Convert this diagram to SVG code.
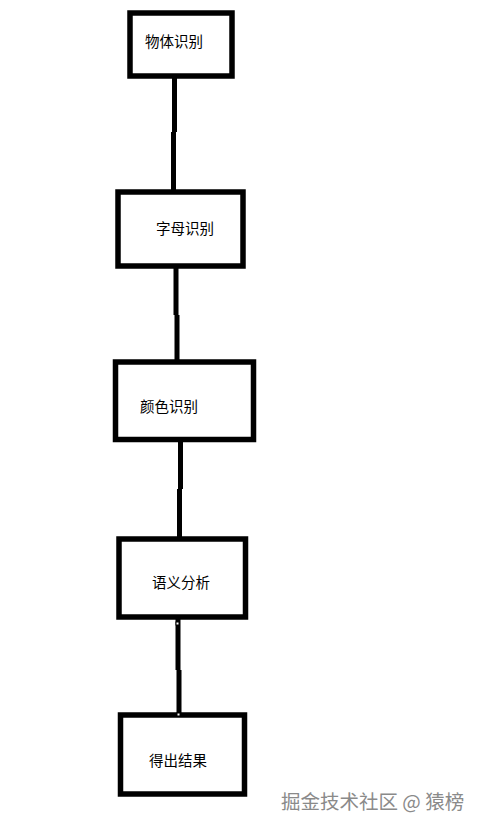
<svg xmlns="http://www.w3.org/2000/svg" width="483" height="831" viewBox="0 0 483 831">
<style>
.box{fill:#fff;stroke:#000;stroke-width:5.5}
.lbl{font-family:"Noto Sans CJK SC","Noto Sans",sans-serif;font-size:14.5px;fill:#000}
.ln{stroke:#000;stroke-width:5;fill:none}
.hd{fill:#fff;stroke:#000;stroke-width:1}
.wm{font-family:"Noto Sans CJK SC","Noto Sans",sans-serif;font-size:19.5px;fill:#8a8a8a}
</style>
<rect width="483" height="831" fill="#fff"/>
<g id="connectors">
<path class="ln" d="M174.5 76 V132 M173.5 132 V192"/>
<path class="ln" d="M176 266 V315 M177 315 V362"/>
<path class="ln" d="M180.5 440 V489 M179.5 489 V539"/>
<path class="ln" d="M178 617 V670 M179 670 V715"/>
</g>
<g id="n1"><rect class="box" x="130" y="13" width="102" height="63"/><text class="lbl" x="145" y="47">物体识别</text></g>
<g id="n2"><rect class="box" x="118" y="192" width="125" height="74"/><text class="lbl" x="156" y="234">字母识别</text></g>
<g id="n3"><rect class="box" x="115.5" y="362" width="138" height="77.5"/><text class="lbl" x="140" y="412">颜色识别</text></g>
<g id="n4"><rect class="box" x="119" y="539" width="126.5" height="78"/><text class="lbl" x="152" y="588">语义分析</text></g>
<g id="n5"><rect class="box" x="120.5" y="715" width="124" height="79"/><text class="lbl" x="149" y="766">得出结果</text></g>
<g id="handles">
<rect class="hd" x="176" y="622" width="3" height="3"/>
<rect class="hd" x="177" y="713" width="3" height="3"/>
</g>
<text class="wm" x="281" y="809">掘金技术社区 @ 猿榜</text>
</svg>
